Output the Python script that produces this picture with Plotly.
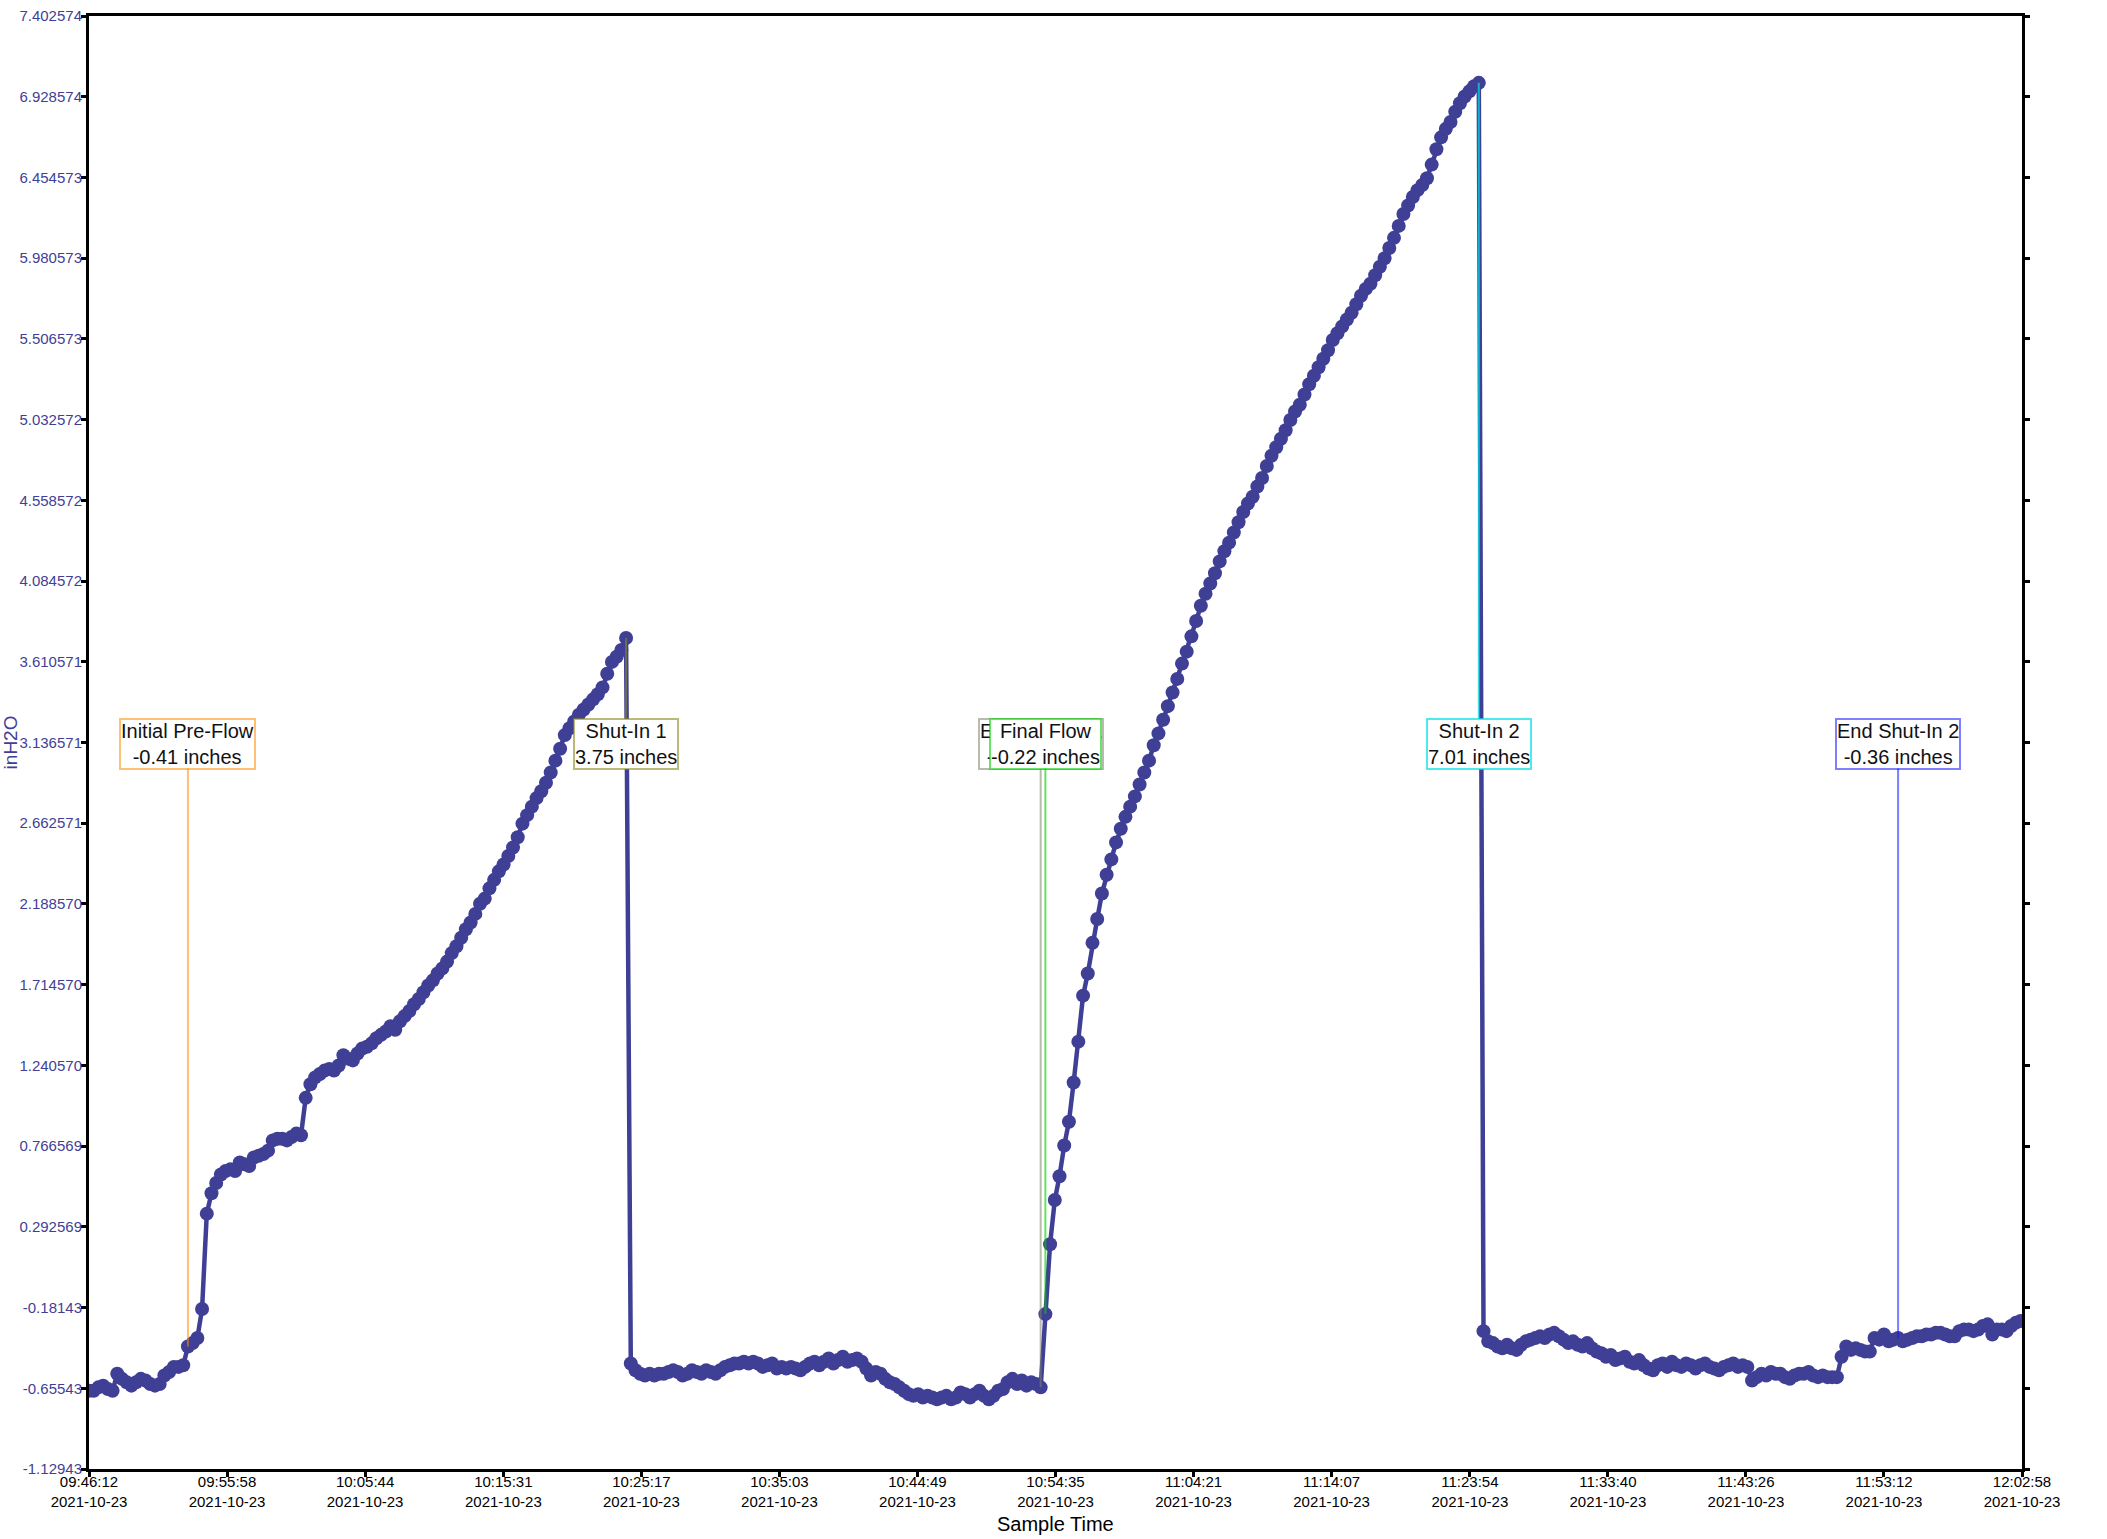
import pandas as pd
import plotly.graph_objects as go

# sample clock of the logger
START = "2021-10-23 09:46:12"
END = "2021-10-23 12:02:58"
STEP = "20s"

# inH2O readings, split by test phase
pre_flow = [-0.67, -0.67, -0.65, -0.64, -0.66, -0.67, -0.57, -0.60, -0.62, -0.64,
            -0.62, -0.60, -0.61, -0.63, -0.64, -0.63, -0.58, -0.56, -0.53, -0.53,
            -0.52, -0.41]

flow_1 = [-0.39, -0.36, -0.19, 0.37, 0.49, 0.55, 0.60, 0.62, 0.63, 0.62,
          0.67, 0.66, 0.65, 0.70, 0.71, 0.72, 0.74, 0.80, 0.81, 0.81,
          0.80, 0.82, 0.84, 0.83, 1.05, 1.13,
          1.17, 1.19, 1.21, 1.22, 1.21, 1.24, 1.30, 1.28, 1.27, 1.31,
          1.34, 1.35, 1.37, 1.40, 1.42, 1.44, 1.47, 1.45, 1.50, 1.53,
          1.56, 1.60, 1.63, 1.67, 1.71, 1.74, 1.78, 1.81, 1.85, 1.90,
          1.94, 1.99, 2.04, 2.08, 2.13, 2.19, 2.22, 2.28, 2.33, 2.38,
          2.42, 2.47, 2.52, 2.58, 2.66, 2.71, 2.76, 2.81, 2.85, 2.90,
          2.96, 3.03, 3.10, 3.18, 3.22, 3.26, 3.30, 3.33, 3.36, 3.39,
          3.42, 3.46, 3.54, 3.61, 3.64, 3.68, 3.75]

shut_in_1 = [-0.51, -0.55, -0.57, -0.58, -0.57, -0.58, -0.57, -0.57, -0.56, -0.55,
             -0.56, -0.58, -0.57, -0.55, -0.56, -0.57, -0.55, -0.56, -0.57, -0.55,
             -0.53, -0.52, -0.51, -0.51, -0.50, -0.51, -0.50, -0.51, -0.53, -0.52,
             -0.51, -0.54, -0.53, -0.54, -0.53, -0.54, -0.55, -0.53, -0.51, -0.50,
             -0.52, -0.50, -0.48, -0.51, -0.49, -0.47, -0.50, -0.49, -0.48, -0.50,
             -0.54, -0.58, -0.56, -0.57, -0.60, -0.62, -0.63, -0.65, -0.67, -0.69,
             -0.70, -0.69, -0.71, -0.70, -0.71, -0.72, -0.71, -0.70, -0.72, -0.71,
             -0.68, -0.69, -0.71, -0.69, -0.67, -0.70, -0.72, -0.70, -0.67, -0.66,
             -0.62, -0.60, -0.63, -0.61, -0.64, -0.62, -0.63, -0.65]

flow_2 = [-0.22, 0.19, 0.45, 0.59, 0.77, 0.91, 1.14, 1.38, 1.65, 1.78,
          1.96, 2.10, 2.25, 2.36, 2.45, 2.55, 2.63, 2.70, 2.76, 2.82,
          2.89, 2.96, 3.03, 3.12, 3.19, 3.27, 3.35, 3.43, 3.51, 3.60,
          3.67, 3.76, 3.85, 3.94, 4.01, 4.07, 4.13, 4.20, 4.26, 4.31,
          4.37, 4.43, 4.49, 4.54, 4.58, 4.64, 4.69, 4.76, 4.82, 4.87,
          4.92, 4.97, 5.03, 5.08, 5.12, 5.18, 5.24, 5.29, 5.34, 5.39,
          5.44, 5.50, 5.54, 5.58, 5.62, 5.66, 5.71, 5.76, 5.80, 5.83,
          5.88, 5.93, 5.98, 6.04, 6.10, 6.17, 6.24, 6.29, 6.34, 6.38,
          6.41, 6.45, 6.53, 6.62, 6.69, 6.74, 6.78, 6.84, 6.89, 6.93,
          6.96, 6.99, 7.01]

shut_in_2 = [-0.32, -0.38, -0.39, -0.41, -0.42, -0.40, -0.42, -0.43, -0.40, -0.38,
             -0.37, -0.36, -0.35, -0.36, -0.34, -0.33, -0.35, -0.37, -0.39, -0.38,
             -0.40, -0.41, -0.39, -0.42, -0.44, -0.45, -0.47, -0.46, -0.49, -0.48,
             -0.47, -0.50, -0.51, -0.49, -0.52, -0.54, -0.55, -0.52, -0.51, -0.53,
             -0.50, -0.52, -0.53, -0.51, -0.52, -0.54, -0.52, -0.51, -0.53, -0.54,
             -0.55, -0.53, -0.52, -0.51, -0.53, -0.52, -0.53, -0.61, -0.59, -0.57,
             -0.58, -0.56, -0.57, -0.57, -0.59, -0.60, -0.58, -0.57, -0.57, -0.56,
             -0.58, -0.59, -0.58, -0.59, -0.59, -0.59, -0.47, -0.41, -0.43, -0.42,
             -0.43, -0.44, -0.44, -0.36, -0.37, -0.34, -0.38, -0.37, -0.36, -0.38,
             -0.37, -0.36, -0.35, -0.35, -0.34, -0.34, -0.33, -0.33, -0.34, -0.35,
             -0.35, -0.32, -0.31, -0.31, -0.32, -0.31, -0.29, -0.28, -0.34, -0.31,
             -0.31, -0.32, -0.29, -0.27, -0.26]

readings = pre_flow + flow_1 + shut_in_1 + flow_2 + shut_in_2
times = pd.date_range(START, periods=len(readings), freq=STEP)

# marked events: name, sample index, colour
event_names = ["Initial Pre-Flow", "Shut-In 1", "End Shut-In 1", "Final Flow", "Shut-In 2", "End Shut-In 2"]
event_idx = [21, 114, 202, 203, 295, 384]
event_colors = ["rgba(255,140,0,0.55)", "rgba(140,140,30,0.6)", "rgba(130,130,110,0.55)",
                "rgba(0,210,0,0.6)", "rgba(0,225,225,0.7)", "rgba(20,20,255,0.55)"]
LABEL_Y = 3.13

y_tick_labels = ["7.402574", "6.928574", "6.454573", "5.980573", "5.506573", "5.032572",
                 "4.558572", "4.084572", "3.610571", "3.136571", "2.662571", "2.188570",
                 "1.714570", "1.240570", "0.766569", "0.292569", "-0.18143", "-0.65543",
                 "-1.12943"]
x_tick_times = ["09:46:12", "09:55:58", "10:05:44", "10:15:31", "10:25:17", "10:35:03",
                "10:44:49", "10:54:35", "11:04:21", "11:14:07", "11:23:54", "11:33:40",
                "11:43:26", "11:53:12", "12:02:58"]

LINE = "#3f3f96"
FONT = "Arial, Liberation Sans, sans-serif"

fig = go.Figure()
fig.add_trace(go.Scatter(
    x=times, y=readings, mode="lines+markers",
    line=dict(color=LINE, width=4.5),
    marker=dict(color=LINE, size=14),
    showlegend=False,
))

for name, idx, col in zip(event_names, event_idx, event_colors):
    fig.add_annotation(
        x=times[idx], y=readings[idx], xref="x", yref="y",
        ax=times[idx], ay=LABEL_Y, axref="x", ayref="y",
        text=f"{name}<br>{readings[idx]:.2f} inches",
        showarrow=True, arrowhead=0, arrowwidth=2, arrowcolor=col,
        bordercolor=col, borderwidth=2, borderpad=0, bgcolor="white",
        font=dict(family=FONT, size=20, color="#111"),
    )

fig.add_annotation(text="inH2O", xref="paper", yref="paper", x=-0.0404, y=0.5,
                   textangle=-90, showarrow=False, xanchor="center", yanchor="middle",
                   font=dict(family=FONT, size=19, color=LINE))
fig.add_annotation(text="Sample Time", xref="paper", yref="paper", x=0.5, y=-0.038,
                   showarrow=False, xanchor="center", yanchor="middle",
                   font=dict(family=FONT, size=20, color="black"))

fig.update_layout(
    width=2107, height=1539,
    margin=dict(l=89, r=85, t=16, b=70),
    paper_bgcolor="white", plot_bgcolor="white",
    font=dict(family=FONT),
)
fig.update_xaxes(
    range=[pd.Timestamp(START), pd.Timestamp(END)],
    tickvals=[pd.Timestamp("2021-10-23 " + t) for t in x_tick_times],
    ticktext=[f"{t}<br>2021-10-23" for t in x_tick_times],
    tickfont=dict(family=FONT, size=15, color="black"),
    ticklabelstandoff=-8,
    showgrid=False, zeroline=False,
    showline=True, linecolor="black", linewidth=3, mirror=True,
    ticks="outside", ticklen=5, tickwidth=3, tickcolor="black",
    automargin=False,
)
fig.update_yaxes(
    range=[-1.12943, 7.402574],
    tickvals=[float(v) for v in y_tick_labels],
    ticktext=y_tick_labels,
    tickfont=dict(family=FONT, size=15, color=LINE),
    ticklabelstandoff=-4,
    showgrid=False, zeroline=False,
    showline=True, linecolor="black", linewidth=3, mirror="ticks",
    ticks="outside", ticklen=5, tickwidth=3, tickcolor="black",
    automargin=False,
)

fig.write_html("out.html", config={"displayModeBar": False},
               post_script="document.body.style.margin='0';")
